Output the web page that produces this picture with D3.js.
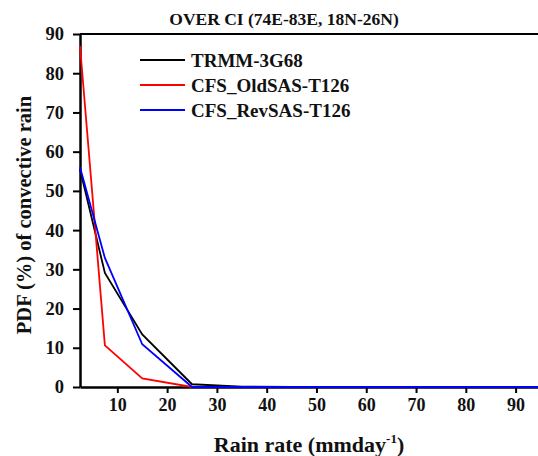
<!DOCTYPE html>
<html>
<head>
<meta charset="utf-8">
<script src="https://cdn.jsdelivr.net/npm/d3@7"></script>
<style>
  body { margin: 0; background: #fff; }
  text { font-family: "Liberation Serif", "Times New Roman", serif; font-weight: bold; }
</style>
</head>
<body>
<div id="chart"></div>
<script>
const rainRate = [2.5, 7.5, 15, 25, 35, 45, 55, 65, 75, 85, 95];
const trmm = [55.5, 29.1, 13.4, 0.7, 0.1, 0, 0, 0, 0, 0, 0];
const oldSAS = [87, 10.6, 2.2, 0, 0, 0, 0, 0, 0, 0, 0];
const revSAS = [56, 32.9, 10.9, 0, 0, 0, 0, 0, 0, 0, 0];
const seriesNames = ["TRMM-3G68", "CFS_OldSAS-T126", "CFS_RevSAS-T126"];
const seriesColors = ["#000000", "#ff0000", "#0000ff"];
const yTicks = [0, 10, 20, 30, 40, 50, 60, 70, 80, 90];
const xTicks = [10, 20, 30, 40, 50, 60, 70, 80, 90];

const width = 538, height = 456;
const margin = { top: 34, right: 0, bottom: 69, left: 80 };

const svg = d3.select("#chart")
    .append("svg")
    .attr("width", width)
    .attr("height", height);

const x = d3.scaleLinear()
    .domain([2.5, 94.5])
    .range([margin.left, width - margin.right]);

const y = d3.scaleLinear()
    .domain([0, 90])
    .range([height - margin.bottom, margin.top]);

// top frame line
svg.append("line")
    .attr("x1", x(2.5)).attr("x2", width)
    .attr("y1", y(90)).attr("y2", y(90))
    .attr("stroke", "#000").attr("stroke-width", 2);

const xAxis = svg.append("g")
    .attr("transform", `translate(0,${y(0)})`)
    .call(d3.axisBottom(x).tickValues(xTicks).tickSize(6).tickPadding(5).tickSizeOuter(0));
xAxis.select(".domain").attr("stroke-width", 2.5);
xAxis.selectAll(".tick line").attr("stroke-width", 2);
xAxis.selectAll("text").attr("font-size", 18).attr("fill", "#111");

const yAxis = svg.append("g")
    .attr("transform", `translate(${x(2.5)},0)`)
    .call(d3.axisLeft(y).tickValues(yTicks).tickSize(7).tickPadding(9).tickSizeOuter(0));
yAxis.select(".domain").attr("stroke-width", 2.5);
yAxis.selectAll(".tick line").attr("stroke-width", 2);
yAxis.selectAll("text").attr("font-size", 18.5).attr("fill", "#111");

const line = d3.line()
    .x((d, i) => x(rainRate[i]))
    .y(d => y(d));

const series = [trmm, oldSAS, revSAS];
svg.selectAll("path.series")
    .data(series)
    .join("path")
    .attr("class", "series")
    .attr("d", d => line(d))
    .attr("fill", "none")
    .attr("stroke", (d, i) => seriesColors[i])
    .attr("stroke-width", 1.8);

// legend
const legend = svg.append("g")
    .attr("transform", "translate(140,60)");
legend.selectAll("line")
    .data(seriesNames)
    .join("line")
    .attr("x1", 0).attr("x2", 45)
    .attr("y1", (d, i) => i * 25)
    .attr("y2", (d, i) => i * 25)
    .attr("stroke", (d, i) => seriesColors[i])
    .attr("stroke-width", 2);
legend.selectAll("text")
    .data(seriesNames)
    .join("text")
    .attr("x", 51)
    .attr("y", (d, i) => i * 25 + 6.5)
    .attr("font-size", 19)
    .attr("fill", "#111")
    .text(d => d);

// title
svg.append("text")
    .attr("x", 284).attr("y", 25)
    .attr("text-anchor", "middle")
    .attr("font-size", 17.5)
    .attr("fill", "#111")
    .text("OVER CI (74E-83E, 18N-26N)");

// axis titles
const xl = svg.append("text")
    .attr("x", 309).attr("y", 452)
    .attr("text-anchor", "middle")
    .attr("font-size", 22)
    .attr("fill", "#111");
xl.append("tspan").text("Rain rate (mmday");
xl.append("tspan").attr("dy", -9).attr("font-size", 13).text("-1");
xl.append("tspan").attr("dy", 9).text(")");

svg.append("text")
    .attr("transform", "translate(31,215) rotate(-90)")
    .attr("text-anchor", "middle")
    .attr("font-size", 20.5)
    .attr("fill", "#111")
    .text("PDF (%) of convective rain");
</script>
</body>
</html>
